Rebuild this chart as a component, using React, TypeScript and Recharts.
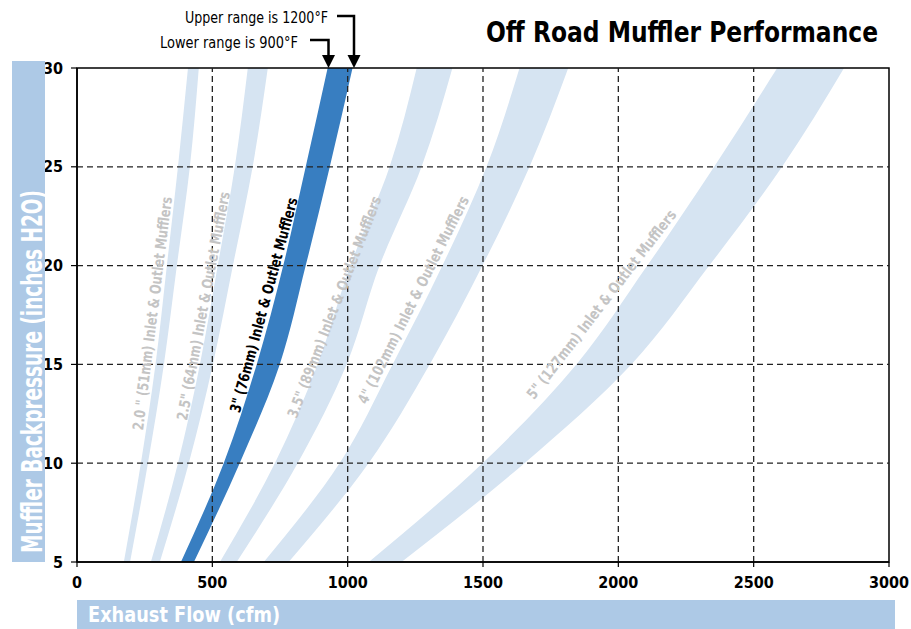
import React from 'react';
import { ComposedChart, Area, XAxis, YAxis, ReferenceLine, ReferenceArea } from 'recharts';

// Backpressure levels (inches H2O) at which band edges were read
const pressureLevels = [5, 10, 15, 20, 25, 30];

// Flow (cfm) at lower range (900°F) and upper range (1200°F) for each muffler size
const flow20Lower = [173, 236, 290, 332, 373, 410];
const flow20Upper = [196, 262, 321, 369, 417, 450];
const flow25Lower = [273, 373, 454, 520, 583, 631];
const flow25Upper = [306, 413, 502, 576, 649, 705];
const flow30Lower = [384, 542, 664, 762, 845, 926];
const flow30Upper = [432, 601, 749, 845, 934, 1018];
const flow35Lower = [528, 731, 889, 1010, 1155, 1255];
const flow35Upper = [590, 815, 996, 1118, 1273, 1387];
const flow40Lower = [690, 970, 1166, 1350, 1513, 1635];
const flow40Upper = [782, 1077, 1303, 1498, 1672, 1815];
const flow50Lower = [1078, 1498, 1845, 2107, 2354, 2587];
const flow50Upper = [1199, 1653, 2048, 2336, 2605, 2834];

const bandNames = [
  '2.0 " (51mm) Inlet & Outlet Mufflers',
  '2.5" (64mm) Inlet & Outlet Mufflers',
  '3" (76mm) Inlet & Outlet Mufflers',
  '3.5" (89mm) Inlet & Outlet Mufflers',
  '4" (102mm) Inlet & Outlet Mufflers',
  '5" (127mm) Inlet & Outlet Mufflers',
];

const flowTicks = [0, 500, 1000, 1500, 2000, 2500, 3000];
const pressureTicks = [5, 10, 15, 20, 25, 30];
const flowGrid = [500, 1000, 1500, 2000, 2500];
const pressureGrid = [10, 15, 20, 25];

const LIGHT = '#d6e4f2';
const DARK = '#387ec1';
const BOX = '#adc9e6';
const FONT = "'Liberation Sans Narrow', 'DejaVu Sans Condensed', 'Liberation Sans', Arial, sans-serif";

const makeBand = (lower: number[], upper: number[]) =>
  pressureLevels.map((y, i) => ({ y, r: [lower[i], upper[i]] }));

const bands = [
  { data: makeBand(flow20Lower, flow20Upper), color: LIGHT },
  { data: makeBand(flow25Lower, flow25Upper), color: LIGHT },
  { data: makeBand(flow30Lower, flow30Upper), color: DARK },
  { data: makeBand(flow35Lower, flow35Upper), color: LIGHT },
  { data: makeBand(flow40Lower, flow40Upper), color: LIGHT },
  { data: makeBand(flow50Lower, flow50Upper), color: LIGHT },
];

// label placement (overlay, pixels)
const labelPlacement = [
  { cx: 152.5, cy: 313.5, angle: -82.9, len: 235, color: '#c4c4c4' },
  { cx: 203.5, cy: 306, angle: -79.3, len: 232, color: '#c4c4c4' },
  { cx: 264, cy: 305, angle: -74.8, len: 222, color: '#000000' },
  { cx: 334.5, cy: 307, angle: -68.9, len: 236, color: '#c4c4c4' },
  { cx: 413.5, cy: 300, angle: -63.4, len: 230, color: '#c4c4c4' },
  { cx: 601.5, cy: 304.5, angle: -52.3, len: 234, color: '#c4c4c4' },
];

const tickStyle = { fontFamily: FONT, fontWeight: 700, fontSize: 16, fill: '#000' };

export default function App() {
  return (
    <div style={{ position: 'absolute', left: 0, top: 0, width: 911, height: 629, background: '#fff' }}>
      <ComposedChart
        layout="vertical"
        width={911}
        height={629}
        margin={{ top: 68, right: 22, bottom: 37, left: 0 }}
      >
        <XAxis
          type="number"
          domain={[0, 3000]}
          ticks={flowTicks}
          allowDataOverflow
          height={30}
          tickSize={5}
          tickMargin={10}
          tick={tickStyle}
          axisLine={{ stroke: '#000', strokeWidth: 1.5 }}
          tickLine={{ stroke: '#000', strokeWidth: 1.2 }}
        />
        <YAxis
          type="number"
          dataKey="y"
          domain={[5, 30]}
          ticks={pressureTicks}
          reversed
          allowDataOverflow
          width={77}
          tickSize={6}
          tickMargin={8}
          tick={tickStyle}
          axisLine={{ stroke: '#000', strokeWidth: 1.5 }}
          tickLine={{ stroke: '#000', strokeWidth: 1.2 }}
        />
        {bands.map((b, i) => (
          <Area
            key={i}
            data={b.data}
            dataKey="r"
            type="monotone"
            fill={b.color}
            fillOpacity={1}
            stroke="none"
            isAnimationActive={false}
          />
        ))}
        {flowGrid.map((v) => (
          <ReferenceLine key={'x' + v} x={v} stroke="#222" strokeWidth={1.3} strokeDasharray="6 4" />
        ))}
        {pressureGrid.map((v) => (
          <ReferenceLine key={'y' + v} y={v} stroke="#222" strokeWidth={1.3} strokeDasharray="6 4" />
        ))}
        <ReferenceArea x1={0} x2={3000} y1={5} y2={30} fill="none" stroke="#000" strokeWidth={1.5} fillOpacity={0} />
      </ComposedChart>

      <svg
        width={911}
        height={629}
        style={{ position: 'absolute', left: 0, top: 0, pointerEvents: 'none' }}
      >
        {/* Title */}
        <text x={878} y={42} textAnchor="end" fontFamily={FONT} fontWeight={700} fontSize={28}
          textLength={392} lengthAdjust="spacingAndGlyphs" fill="#000">
          Off Road Muffler Performance
        </text>

        {/* Y axis title */}
        <rect x={12} y={61} width={33} height={501} fill={BOX} />
        <text transform="translate(42,553) rotate(-90)" fontFamily={FONT} fontWeight={700} fontSize={29}
          textLength={363} lengthAdjust="spacingAndGlyphs" fill="#fff">
          Muffler Backpressure (inches H2O)
        </text>

        {/* X axis title */}
        <rect x={77} y={600} width={818} height={29} fill={BOX} />
        <text x={88} y={622} fontFamily={FONT} fontWeight={700} fontSize={21}
          textLength={192} lengthAdjust="spacingAndGlyphs" fill="#fff">
          Exhaust Flow (cfm)
        </text>

        {/* Annotations */}
        <text x={185} y={23} fontFamily={FONT} fontSize={16} textLength={143} lengthAdjust="spacingAndGlyphs" fill="#000">
          Upper range is 1200°F
        </text>
        <polyline points="337,16 354,16 354,56" fill="none" stroke="#000" strokeWidth={2.5} />
        <polygon points="347.5,55 360.5,55 354,68" fill="#000" />
        <text x={160} y={48} fontFamily={FONT} fontSize={16} textLength={138} lengthAdjust="spacingAndGlyphs" fill="#000">
          Lower range is 900°F
        </text>
        <polyline points="310,40 328.5,40 328.5,56" fill="none" stroke="#000" strokeWidth={2.5} />
        <polygon points="322,55 335,55 328.5,68" fill="#000" />

        {/* Band labels */}
        {labelPlacement.map((p, i) => (
          <text
            key={i}
            transform={`translate(${p.cx},${p.cy}) rotate(${p.angle})`}
            textAnchor="middle"
            dominantBaseline="central"
            fontFamily={FONT}
            fontWeight={700}
            fontSize={15}
            textLength={p.len}
            lengthAdjust="spacingAndGlyphs"
            fill={p.color}
          >
            {bandNames[i]}
          </text>
        ))}
      </svg>
    </div>
  );
}
